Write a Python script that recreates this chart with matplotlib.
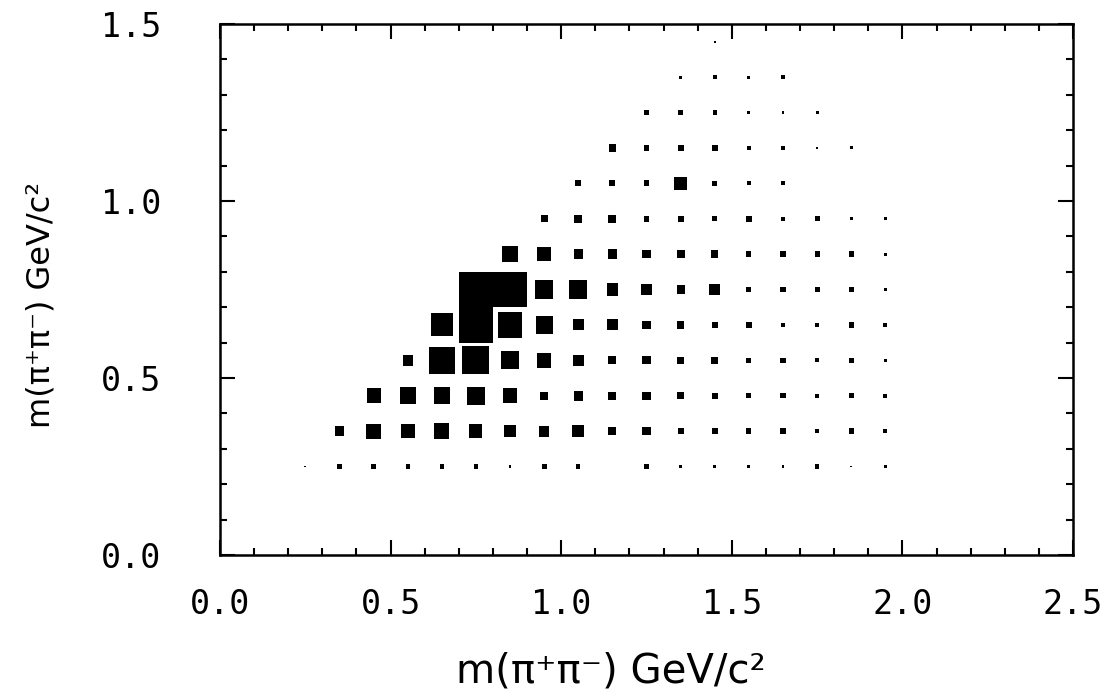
import numpy as np
import matplotlib.pyplot as plt

# bin centres (GeV/c^2)
x_bins = [0.25, 0.35, 0.45, 0.55, 0.65, 0.75, 0.85, 0.95, 1.05,
          1.15, 1.25, 1.35, 1.45, 1.55, 1.65, 1.75, 1.85, 1.95]
y_bins = [0.25, 0.35, 0.45, 0.55, 0.65, 0.75, 0.85, 0.95, 1.05,
          1.15, 1.25, 1.35, 1.45]

# entries per bin, one row per y bin
row_025 = [1, 6, 9, 6, 6, 6, 3, 9, 6, 0, 6, 3, 3, 3, 3, 6, 1, 3]
row_035 = [0, 31, 73, 68, 78, 58, 42, 38, 46, 22, 22, 12, 12, 9, 9, 4, 9, 6]
row_045 = [0, 0, 68, 89, 89, 106, 68, 19, 31, 22, 22, 17, 12, 9, 9, 6, 9, 6]
row_055 = [0, 0, 0, 35, 234, 252, 100, 73, 38, 22, 22, 17, 17, 9, 9, 6, 9, 3]
row_065 = [0, 0, 0, 0, 167, 400, 208, 100, 38, 38, 22, 17, 12, 12, 6, 6, 9, 6]
row_075 = [0, 0, 0, 0, 0, 400, 400, 112, 112, 46, 35, 22, 42, 9, 9, 9, 9, 3]
row_085 = [0, 0, 0, 0, 0, 0, 78, 63, 28, 31, 22, 22, 17, 9, 12, 9, 9, 3]
row_095 = [0, 0, 0, 0, 0, 0, 0, 17, 22, 22, 12, 12, 9, 12, 6, 9, 3, 3]
row_105 = [0, 0, 0, 0, 0, 0, 0, 0, 12, 12, 12, 58, 9, 6, 6, 0, 0, 0]
row_115 = [0, 0, 0, 0, 0, 0, 0, 0, 0, 17, 12, 12, 12, 6, 6, 1, 3, 0]
row_125 = [0, 0, 0, 0, 0, 0, 0, 0, 0, 0, 6, 9, 6, 3, 3, 3, 0, 0]
row_135 = [0, 0, 0, 0, 0, 0, 0, 0, 0, 0, 0, 3, 6, 3, 6, 0, 0, 0]
row_145 = [0, 0, 0, 0, 0, 0, 0, 0, 0, 0, 0, 0, 1, 0, 0, 0, 0, 0]

counts = np.array([row_025, row_035, row_045, row_055, row_065, row_075,
                   row_085, row_095, row_105, row_115, row_125, row_135,
                   row_145], dtype=float)

bin_w = 0.1
cmax = counts.max()

fig = plt.figure(figsize=(11.19, 6.99), dpi=100)
ax = fig.add_axes([220 / 1119, 144 / 699, 853 / 1119, 531 / 699])

# box plot: side of each box ~ sqrt(entries)
for j, yc in enumerate(y_bins):
    for i, xc in enumerate(x_bins):
        c = counts[j, i]
        if c <= 0:
            continue
        side = bin_w * np.sqrt(c / cmax)
        ax.bar(xc, side, width=side, bottom=yc - side / 2,
               color='black', linewidth=0)

ax.set_xlim(0, 2.5)
ax.set_ylim(0, 1.5)

ax.set_xticks([0.0, 0.5, 1.0, 1.5, 2.0, 2.5])
ax.set_yticks([0.0, 0.5, 1.0, 1.5])
ax.set_xticks(np.arange(0, 2.51, 0.1), minor=True)
ax.set_yticks(np.arange(0, 1.51, 0.1), minor=True)
ax.set_xticklabels(['0.0', '0.5', '1.0', '1.5', '2.0', '2.5'],
                   family='DejaVu Sans Mono', fontsize=24)
ax.set_yticklabels(['0.0', '0.5', '1.0', '1.5'],
                   family='DejaVu Sans Mono', fontsize=24)

ax.tick_params(which='both', direction='in', top=True, right=True,
               width=1.5, colors='black')
ax.tick_params(which='major', length=11)
ax.tick_params(which='minor', length=5)
ax.tick_params(axis='x', which='major', pad=24)
ax.tick_params(axis='y', which='major', pad=42)

for sp in ax.spines.values():
    sp.set_linewidth(1.8)

ax.set_xlabel('m(π⁺π⁻) GeV/c²', fontsize=29)
ax.set_ylabel('m(π⁺π⁻) GeV/c²', fontsize=23)
ax.xaxis.set_label_coords(0.458, -0.182)
ax.yaxis.set_label_coords(-0.192, 0.47)

fig.savefig('out.png', dpi=100)
